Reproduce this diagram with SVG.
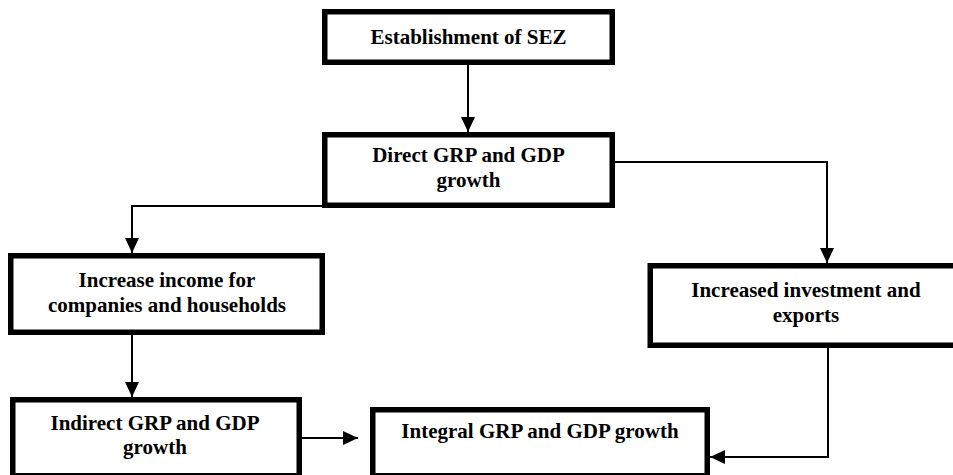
<svg xmlns="http://www.w3.org/2000/svg" width="953" height="475" viewBox="0 0 953 475">
<defs>
<marker id="ah" markerWidth="16" markerHeight="14" refX="15" refY="7" orient="auto" markerUnits="userSpaceOnUse">
<path d="M0,0 L15,7 L0,14 Z" fill="#000"/>
</marker>
<style>
.box{fill:#fff;stroke:#000;stroke-width:5.5}
.t{font-family:'Liberation Serif','DejaVu Serif',serif;font-weight:700;font-size:21px;fill:#000;text-anchor:middle}
.c{fill:none;stroke:#000;stroke-width:2}
</style>
</defs>
<rect width="953" height="475" fill="#fff"/>
<g id="connectors">
<path class="c" d="M468,65 L468,132" marker-end="url(#ah)"/>
<path class="c" d="M615,162 L827,162 L827,263" marker-end="url(#ah)"/>
<path class="c" d="M322,206 L132,206 L132,253" marker-end="url(#ah)"/>
<path class="c" d="M132,335 L132,397" marker-end="url(#ah)"/>
<path class="c" d="M302,438 L358,438" marker-end="url(#ah)"/>
<path class="c" d="M828,348 L828,457 L710,457" marker-end="url(#ah)"/>
</g>
<g id="n1">
<rect class="box" x="324.75" y="11.75" width="287.5" height="50.5"/>
<text class="t" x="468.5" y="44">Establishment of SEZ</text>
</g>
<g id="n2">
<rect class="box" x="324.75" y="134.75" width="287.5" height="70.5"/>
<text class="t" x="468.5" y="162">Direct GRP and GDP</text>
<text class="t" x="468.5" y="187">growth</text>
</g>
<g id="n3">
<rect class="box" x="10.75" y="255.75" width="311.5" height="76.5"/>
<text class="t" x="167" y="287">Increase income for</text>
<text class="t" x="167" y="312">companies and households</text>
</g>
<g id="n4">
<rect class="box" x="650.25" y="265.75" width="320" height="79.5"/>
<text class="t" x="806" y="297">Increased investment and</text>
<text class="t" x="806" y="322">exports</text>
</g>
<g id="n5">
<rect class="box" x="12.75" y="399.75" width="286.5" height="76"/>
<text class="t" x="155" y="430">Indirect GRP and GDP</text>
<text class="t" x="155" y="454">growth</text>
</g>
<g id="n6">
<rect class="box" x="372.75" y="409.75" width="334.5" height="66"/>
<text class="t" x="540" y="438">Integral GRP and GDP growth</text>
</g>
</svg>
